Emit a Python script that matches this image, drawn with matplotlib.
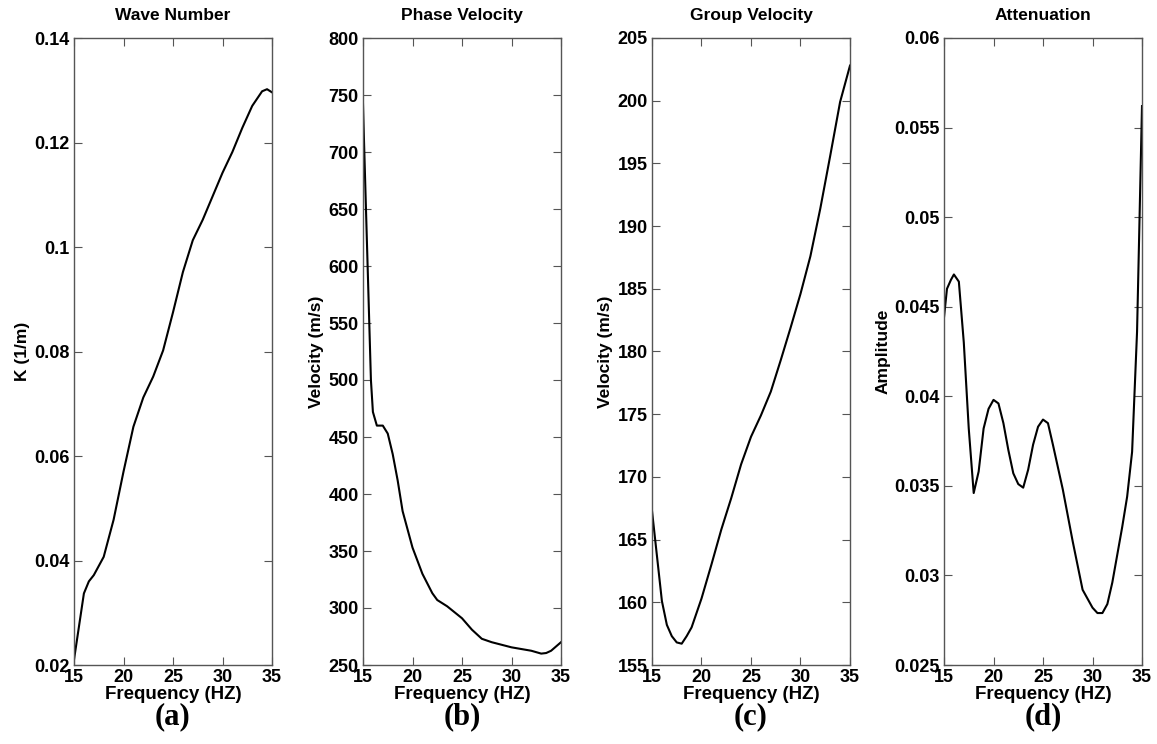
import numpy as np
import matplotlib
matplotlib.use("Agg")
import matplotlib.pyplot as plt
from matplotlib.ticker import FormatStrFormatter

plt.rcParams['font.family'] = ['Liberation Sans', 'DejaVu Sans']
plt.rcParams['font.weight'] = 'bold'

# (a) wave number
freq_a = [15, 16, 16.5, 17, 18, 19, 20, 21, 22, 23, 24, 25, 26, 27, 28, 29,
          30, 31, 32, 33, 34, 34.5, 35]
k_a = [0.021, 0.0337, 0.036, 0.0372, 0.0407, 0.0478, 0.057, 0.0656, 0.0712,
       0.0752, 0.0802, 0.0875, 0.0952, 0.1013, 0.1052, 0.1097, 0.1142, 0.1182,
       0.1228, 0.127, 0.1298, 0.1302, 0.1296]

# (b) phase velocity
freq_b = [15, 15.1, 15.8, 16, 16.4, 17, 17.5, 18, 18.5, 19, 20, 21, 22, 22.5,
          23.5, 25, 26, 27, 28, 30, 31, 32, 33, 33.5, 34, 35]
vel_b = [742, 710, 500, 472, 460, 460, 453, 435, 412, 385, 353, 330, 313, 307,
         301.5, 291, 281, 273, 270, 265.5, 264, 262.5, 260, 260.5, 262.5, 270]

# (c) group velocity
freq_c = [15, 15.5, 16, 16.5, 17, 17.5, 18, 18.5, 19, 20, 21, 22, 23, 24, 25,
          26, 27, 28, 29, 30, 31, 32, 33, 34, 35]
vel_c = [167.3, 163.7, 160.1, 158.2, 157.3, 156.8, 156.7, 157.3, 158.0, 160.3,
         163.0, 165.8, 168.3, 171.0, 173.2, 174.9, 176.8, 179.3, 181.9, 184.6,
         187.6, 191.4, 195.6, 199.9, 202.8]

# (d) attenuation
freq_d = [15, 15.3, 15.7, 16, 16.5, 17, 17.5, 18, 18.5, 19, 19.5, 20, 20.5, 21,
          21.5, 22, 22.5, 23, 23.5, 24, 24.5, 25, 25.5, 26, 27, 28, 29, 30,
          30.5, 31, 31.5, 32, 33, 33.5, 34, 34.5, 35]
amp_d = [0.0444, 0.046, 0.0465, 0.0468, 0.0464, 0.043, 0.0382, 0.0346, 0.0358,
         0.0382, 0.0393, 0.0398, 0.0396, 0.0385, 0.037, 0.0357, 0.0351, 0.0349,
         0.0359, 0.0373, 0.0383, 0.0387, 0.0385, 0.0373, 0.0348, 0.0319,
         0.0292, 0.0282, 0.0279, 0.0279, 0.0284, 0.0296, 0.0327, 0.0344,
         0.0369, 0.0436, 0.0562]

panels = [
    (freq_a, k_a, 'Wave Number', 'K (1/m)', (0.02, 0.14), np.arange(0.02, 0.1401, 0.02), '(a)'),
    (freq_b, vel_b, 'Phase Velocity', 'Velocity (m/s)', (250, 800), np.arange(250, 801, 50), '(b)'),
    (freq_c, vel_c, 'Group Velocity', 'Velocity (m/s)', (155, 205), np.arange(155, 206, 5), '(c)'),
    (freq_d, amp_d, 'Attenuation', 'Amplitude', (0.025, 0.06), np.arange(0.025, 0.0601, 0.005), '(d)'),
]

fig = plt.figure(figsize=(11.57, 7.44), dpi=100)
lefts = [74, 363, 652, 944]
for left, (x, y, title, ylab, ylim, yt, tag) in zip(lefts, panels):
    ax = fig.add_axes([left / 1157, 1 - 665 / 744, 198 / 1157, 627 / 744])
    ax.plot(x, y, color='black', linewidth=1.5)
    ax.set_xlim(15, 35)
    ax.set_ylim(*ylim)
    ax.set_xticks([15, 20, 25, 30, 35])
    ax.set_yticks(yt)
    ax.yaxis.set_major_formatter(FormatStrFormatter('%g'))
    ax.tick_params(direction='in', length=6, top=True, right=True,
                   labelsize=13, pad=3, color='#555555')
    for s in ax.spines.values():
        s.set_color('#555555')
        s.set_linewidth(1.0)
    ax.set_title(title, fontsize=12.5, fontweight='bold', pad=13)
    ax.set_ylabel(ylab, fontsize=12.5, fontweight='bold', labelpad=3)
    ax.set_xlabel('Frequency (HZ)', fontsize=13.5, fontweight='bold', labelpad=0)
    ax.text(0.5, -0.06, tag, transform=ax.transAxes, ha='center', va='top',
            fontsize=22, fontweight='bold', family='Liberation Serif')

fig.savefig('out.png', dpi=100)
